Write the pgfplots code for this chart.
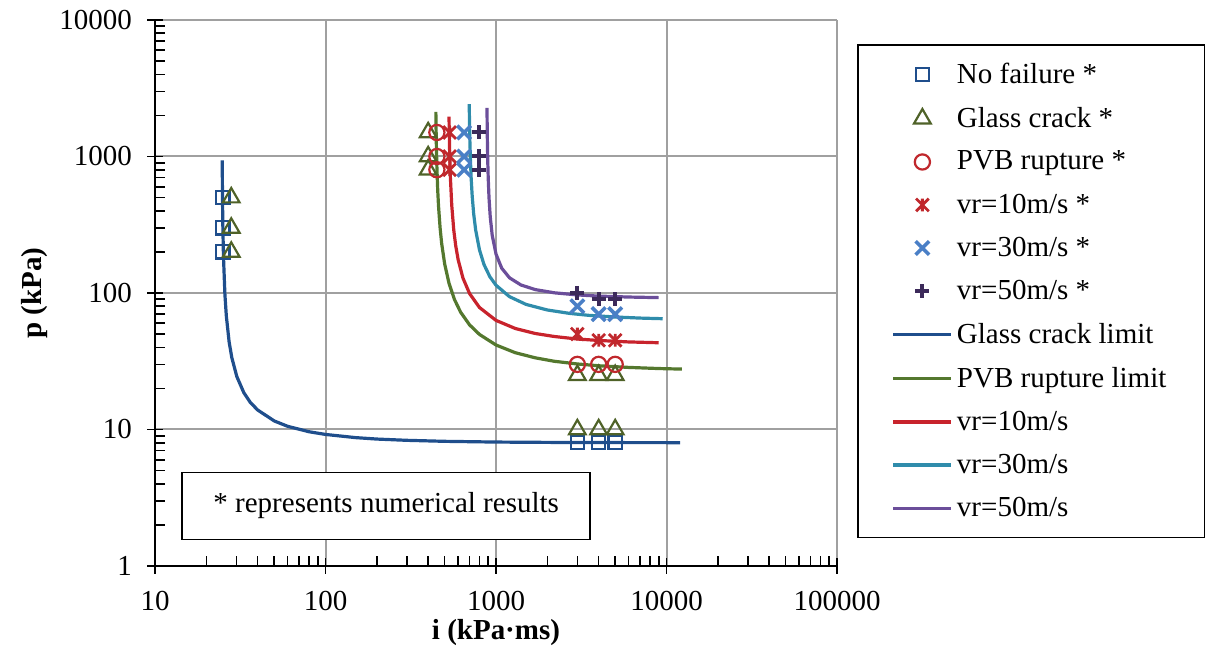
\documentclass[border=0pt]{standalone}
\usepackage{fontspec}
\setmainfont{Liberation Serif}
\usepackage{pgfplots}
\pgfplotsset{compat=1.18}
\definecolor{gcblue}{RGB}{31,78,140}
\definecolor{pvbgreen}{RGB}{84,120,46}
\definecolor{trigreen}{RGB}{79,98,40}
\definecolor{rline}{RGB}{200,35,44}
\definecolor{rmark}{RGB}{192,40,45}
\definecolor{teal30}{RGB}{47,140,171}
\definecolor{purp50}{RGB}{107,78,154}
\definecolor{xblue}{RGB}{74,127,198}
\definecolor{plusp}{RGB}{60,42,90}
\definecolor{gridgray}{RGB}{160,160,160}
\pgfdeclareplotmark{xstar}{%
  \pgfpathmoveto{\pgfqpoint{-.70711\pgfplotmarksize}{-.70711\pgfplotmarksize}}%
  \pgfpathlineto{\pgfqpoint{.70711\pgfplotmarksize}{.70711\pgfplotmarksize}}%
  \pgfpathmoveto{\pgfqpoint{-.70711\pgfplotmarksize}{.70711\pgfplotmarksize}}%
  \pgfpathlineto{\pgfqpoint{.70711\pgfplotmarksize}{-.70711\pgfplotmarksize}}%
  \pgfpathmoveto{\pgfqpoint{0pt}{-.70711\pgfplotmarksize}}%
  \pgfpathlineto{\pgfqpoint{0pt}{.70711\pgfplotmarksize}}%
  \pgfusepathqstroke}
\pgfplotsset{
  markleg/.style={legend image code/.code={\draw[##1] plot coordinates {(16pt,0pt)};}},
  lineleg/.style={legend image code/.code={\draw[##1] (1.5pt,0pt) -- (30.5pt,0pt);}},
}
\begin{document}
\begin{tikzpicture}[font=\fontsize{14.5}{17}\selectfont]
\useasboundingbox (-77.5pt,-45.5pt) rectangle (531pt,283pt);
\begin{axis}[
  at={(0,0)}, anchor=south west,
  scale only axis, width=341pt, height=273pt,
  xmode=log, ymode=log,
  xmin=10, xmax=100000, ymin=1, ymax=10000,
  xtick={10,100,1000,10000,100000},
  xticklabels={10,100,1000,10000,100000},
  ytick={1,10,100,1000,10000},
  yticklabels={1,10,100,1000,10000},
  minor xtick={20,30,40,50,60,70,80,90,200,300,400,500,600,700,800,900,2000,3000,4000,5000,6000,7000,8000,9000,20000,30000,40000,50000,60000,70000,80000,90000},
  minor ytick={2,3,4,5,6,7,8,9,20,30,40,50,60,70,80,90,200,300,400,500,600,700,800,900,2000,3000,4000,5000,6000,7000,8000,9000},
  axis lines=left, axis line style={-, line width=0.8pt, black},
  grid=major, major grid style={color=gridgray, line width=1pt},
  tick style={black, line width=0.8pt},
  tick align=center, major tick length=8pt, minor tick length=5pt,
  every minor x tick/.append style={yshift=2.5pt},
  every minor y tick/.append style={xshift=2.5pt},
  xticklabel style={yshift=-5pt},
  yticklabel style={xshift=-4pt},
  xlabel={\textbf{i (kPa·ms)}},
  ylabel={\textbf{p (kPa)}},
  xlabel style={at={(axis description cs:0.5,-0.121)}, anchor=center},
  ylabel style={at={(axis description cs:-0.176,0.5)}, anchor=center},
  legend style={at={(rel axis cs:1.0293,0.956)}, anchor=north west,
    draw=black, line width=0.8pt, inner xsep=17pt, inner ysep=7pt,
    row sep=6.4pt, font=\fontsize{14.5}{17}\selectfont},
  legend cell align=left,
]
% marker series
\addplot[only marks, mark=square, mark size=3.3pt, color=gcblue, line width=1.1pt, markleg]
  coordinates {(25,200)(25,300)(25,500)(3000,8)(4000,8)(5000,8)};
\addlegendentry{No failure *}
\addplot[only marks, mark=triangle, mark size=4.8pt, color=trigreen, line width=1.1pt, markleg]
  coordinates {(28,200)(28,300)(28,500)(400,800)(400,1000)(400,1500)
  (3000,10)(4000,10)(5000,10)(3000,25)(4000,25)(5000,25)};
\addlegendentry{Glass crack *}
\addplot[only marks, mark=o, mark size=3.8pt, color=rmark, line width=1.1pt, markleg]
  coordinates {(450,800)(450,1000)(450,1500)(3000,30)(4000,30)(5000,30)};
\addlegendentry{PVB rupture *}
\addplot[only marks, mark=xstar, mark size=4.5pt, color=rmark, line width=1.4pt, markleg]
  coordinates {(535,800)(535,1000)(535,1500)(3000,50)(4000,45)(5000,45)};
\addlegendentry{vr=10m/s *}
\addplot[only marks, mark=x, mark size=4.8pt, color=xblue, line width=1.8pt, markleg]
  coordinates {(650,800)(650,1000)(650,1500)(3000,80)(4000,70)(5000,70)};
\addlegendentry{vr=30m/s *}
\addplot[only marks, mark=+, mark size=3.5pt, color=plusp, line width=2pt, markleg]
  coordinates {(800,800)(800,1000)(800,1500)(3000,100)(4000,90)(5000,90)};
\addlegendentry{vr=50m/s *}
% limit curves
\addplot[color=gcblue, line width=1.6pt, lineleg] coordinates {
  (24.797,935)(24.8,908)(24.85,608)(24.9,458)(25.0,308)(25.2,188)(25.7,98)(26.2,68)
  (27.2,44)(28.2,33.7)(30.2,24.4)(33.2,18.6)(36.2,15.8)(40,13.9)(50,11.56)(60,10.55)
  (80,9.63)(100,9.20)(150,8.72)(200,8.51)(300,8.33)(500,8.19)(1000,8.09)(2000,8.045)
  (5000,8.018)(12000,8.0075)};
\addlegendentry{Glass crack limit}
\addplot[color=pvbgreen, line width=1.6pt, lineleg] coordinates {
  (443.9,2120)(444,2071)(445,1662)(447,1195)(450,845)(455,572)(460,436)(470,300)
  (480,231)(500,163)(530,118)(570,89.9)(620,72.4)(700,58.4)(800,49.7)(1000,41.6)
  (1300,36.5)(1700,33.5)(2200,31.6)(3000,30.2)(4000,29.3)(6000,28.5)(9000,27.96)(12300,27.7)};
\addlegendentry{PVB rupture limit}
\addplot[color=rline, line width=1.6pt, lineleg] coordinates {
  (530.2,1960)(532,1467)(535,1039)(540,707)(550,441)(565,291)(580,223)(600,175)
  (640,128.7)(700,99)(800,78.3)(1000,63)(1300,54.9)(1700,50.5)(2200,48)(3000,46)
  (4000,44.9)(6000,43.8)(9000,43.2)};
\addlegendentry{vr=10m/s}
\addplot[color=teal30, line width=1.6pt, lineleg] coordinates {
  (696.7,2423)(698,2039)(700,1644)(703,1279)(708,941)(715,695)(725,515)(740,379)
  (760,289)(800,207)(850,161.8)(920,131.7)(1000,114)(1200,94)(1500,82.5)(2000,75.1)
  (2700,70.9)(3500,68.6)(5000,66.7)(7000,65.5)(9500,64.8)};
\addlegendentry{vr=30m/s}
\addplot[color=purp50, line width=1.6pt, lineleg] coordinates {
  (885.6,2272)(887,1836)(890,1312)(895,905)(900,702)(910,498)(925,362)(950,265)
  (1000,193)(1080,152)(1200,129.2)(1400,114.5)(1700,105.9)(2200,100.3)(3000,96.8)
  (4000,94.9)(6000,93.4)(9000,92.5)};
\addlegendentry{vr=50m/s}
\node[draw=black, line width=0.8pt, minimum width=204pt, minimum height=33.5pt, inner sep=0pt, fill=white]
  at (rel axis cs:0.339,0.110) {* represents numerical results};
\end{axis}
\end{tikzpicture}
\end{document}
